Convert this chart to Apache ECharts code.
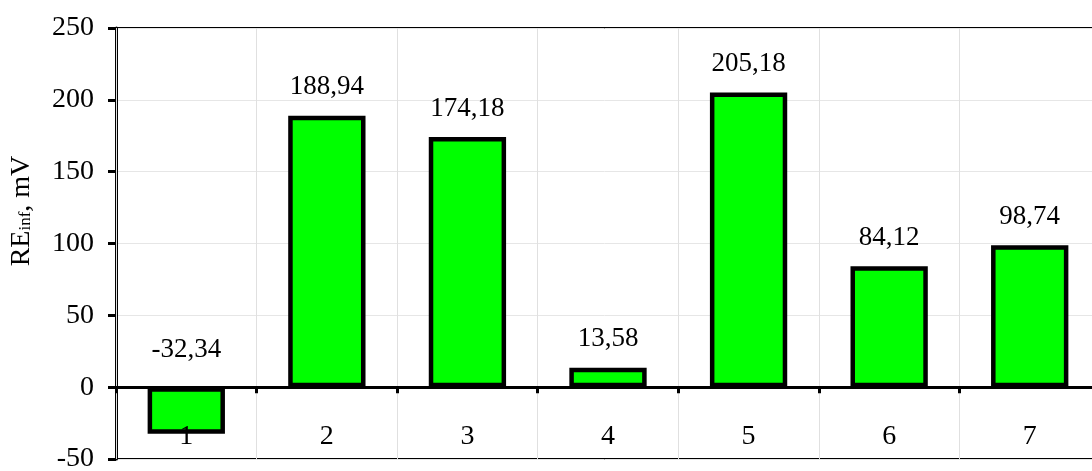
<!DOCTYPE html>
<html>
<head>
<meta charset="utf-8">
<script src="https://cdn.jsdelivr.net/npm/echarts@6/dist/echarts.min.js"></script>
<style>
html,body{margin:0;padding:0;background:#fff;}
#chart{width:1092px;height:471px;}
</style>
</head>
<body>
<div id="chart"></div>
<script>
var categories = ['1','2','3','4','5','6','7'];
var values = [-32.34, 188.94, 174.18, 13.58, 205.18, 84.12, 98.74];
var yTicks = {min: -50, max: 250, interval: 50};

var FONT = "'Liberation Serif', 'Times New Roman', serif";
var chart = echarts.init(document.getElementById('chart'), null, {renderer: 'canvas'});

var barData = values.map(function (v) {
  var item = {value: v};
  if (v < 0) {
    item.label = {position: 'top', distance: 24};
  }
  return item;
});

chart.setOption({
  animation: false,
  backgroundColor: '#ffffff',
  grid: {
    left: 116, top: 28, right: -8, bottom: 12,
    containLabel: false,
    outerBoundsMode: 'none',
    show: true, borderColor: '#000', borderWidth: 2, backgroundColor: 'transparent'
  },
  xAxis: {
    type: 'category',
    data: categories,
    z: 5,
    axisLine: {onZero: true, lineStyle: {color: '#000', width: 3}},
    axisTick: {show: true, length: 6, lineStyle: {color: '#000', width: 3}},
    axisLabel: {inside: true, margin: 8, color: '#000', fontSize: 28, fontFamily: FONT},
    splitLine: {show: true, lineStyle: {color: '#e0e0e0', width: 1}}
  },
  yAxis: {
    type: 'value',
    min: yTicks.min, max: yTicks.max, interval: yTicks.interval,
    axisLine: {show: true, onZero: false, lineStyle: {color: '#000', width: 3}},
    axisTick: {show: true, length: 8, lineStyle: {color: '#000', width: 3}},
    axisLabel: {margin: 22, color: '#000', fontSize: 28, fontFamily: FONT},
    splitLine: {show: true, lineStyle: {color: '#e6e6e6', width: 1}}
  },
  graphic: [{
    type: 'text',
    x: 22, y: 211,
    rotation: Math.PI / 2,
    style: {
      text: '{a|RE}{b|inf}{a|, mV}',
      align: 'center',
      verticalAlign: 'middle',
      fill: '#000',
      rich: {
        a: {fontSize: 28, fontFamily: FONT, fill: '#000', color: '#000'},
        b: {fontSize: 17, fontFamily: FONT, fill: '#000', color: '#000', padding: [8, 0, 0, 0]}
      }
    }
  }],
  series: [{
    type: 'bar',
    data: barData,
    barWidth: '55%',
    itemStyle: {color: '#00ff00', borderColor: '#000', borderWidth: 4.5},
    label: {
      show: true,
      position: 'top',
      distance: 15,
      color: '#000',
      fontSize: 27,
      fontFamily: FONT,
      formatter: function (p) { return p.value.toFixed(2).replace('.', ','); }
    }
  }]
});
</script>
</body>
</html>
